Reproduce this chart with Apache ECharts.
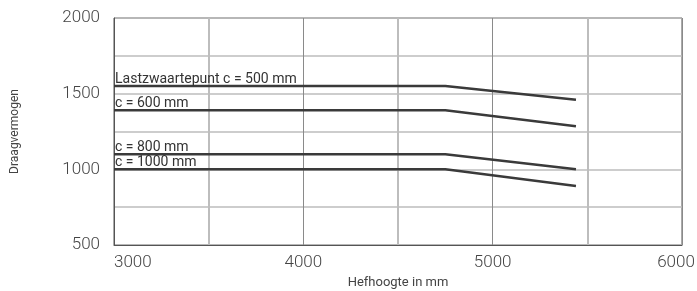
<!DOCTYPE html>
<html>
<head>
<meta charset="utf-8">
<script src="https://cdn.jsdelivr.net/npm/echarts@6/dist/echarts.min.js"></script>
<style>
  html, body { margin: 0; padding: 0; background: #fff; }
  #chart { width: 697px; height: 291px; }
</style>
</head>
<body>
<div id="chart"></div>
<script>
// hefhoogte (mm) en draagvermogen per lastzwaartepunt
const hoogte = [3000, 4750, 5440];
const c500 = [1550, 1550, 1460];
const c600 = [1390, 1390, 1285];
const c800 = [1100, 1100, 1000];
const c1000 = [1000, 1000, 890];
const namen = ['Lastzwaartepunt c = 500 mm', 'c = 600 mm', 'c = 800 mm', 'c = 1000 mm'];
const reeksen = [c500, c600, c800, c1000];

const font = 'Roboto, "Liberation Sans", sans-serif';

function maakSerie(vals, naam) {
  return {
    type: 'line',
    name: naam,
    symbol: 'circle',
    symbolSize: 0,
    showSymbol: true,
    lineStyle: { color: '#3a3a3a', width: 2.5 },
    itemStyle: { color: '#3a3a3a' },
    data: vals.map((v, i) => {
      const d = { value: [hoogte[i], v] };
      if (i === 0) {
        d.label = {
          show: true,
          formatter: naam,
          position: 'top',
          align: 'left',
          distance: 0,
          offset: [1, 0],
          color: '#333',
          fontSize: 14,
          fontFamily: font
        };
      }
      return d;
    }),
    emphasis: { disabled: true },
    z: 5
  };
}

const myChart = echarts.init(document.getElementById('chart'));
myChart.setOption({
  animation: false,
  grid: {
    left: 114, right: 15, top: 18, bottom: 46,
    outerBoundsMode: 'none',
    show: true, borderColor: '#555', borderWidth: 1
  },
  xAxis: {
    type: 'value',
    min: 3000, max: 6000, interval: 1000,
    name: 'Hefhoogte in mm',
    nameLocation: 'middle',
    nameGap: 26,
    nameTextStyle: { color: '#444', fontSize: 13, fontFamily: font },
    axisLine: { show: true, lineStyle: { color: '#555', width: 1 } },
    axisTick: { show: false },
    axisLabel: {
      color: '#444', fontSize: 17, fontWeight: 300, fontFamily: font, margin: 9,
      alignMinLabel: 'left',
      formatter: v => v === 6000 ? '{m|' + v + '}' : String(v),
      rich: { m: { color: '#444', fontSize: 17, fontWeight: 300, fontFamily: font, padding: [0, 12, 0, 0] } }
    },
    splitLine: { show: true, lineStyle: { color: '#8a8a8a', width: 1 } },
    minorTick: { show: false, splitNumber: 2 },
    minorSplitLine: { show: true, lineStyle: { color: '#bdbdbd', width: 2 } }
  },
  yAxis: {
    type: 'value',
    min: 500, max: 2000, interval: 500,
    name: 'Draagvermogen',
    nameLocation: 'middle',
    nameGap: 93,
    nameTextStyle: { color: '#444', fontSize: 12, fontFamily: font },
    axisLine: { show: true, lineStyle: { color: '#555', width: 1 } },
    axisTick: { show: false },
    axisLabel: { color: '#444', fontSize: 17, fontWeight: 300, fontFamily: font, margin: 14, formatter: v => String(v) },
    splitLine: { show: true, lineStyle: { color: '#bdbdbd', width: 1.5 } },
    minorTick: { show: false, splitNumber: 2 },
    minorSplitLine: { show: true, lineStyle: { color: '#bdbdbd', width: 1.5 } }
  },
  series: reeksen.map((r, i) => maakSerie(r, namen[i]))
});
</script>
</body>
</html>
